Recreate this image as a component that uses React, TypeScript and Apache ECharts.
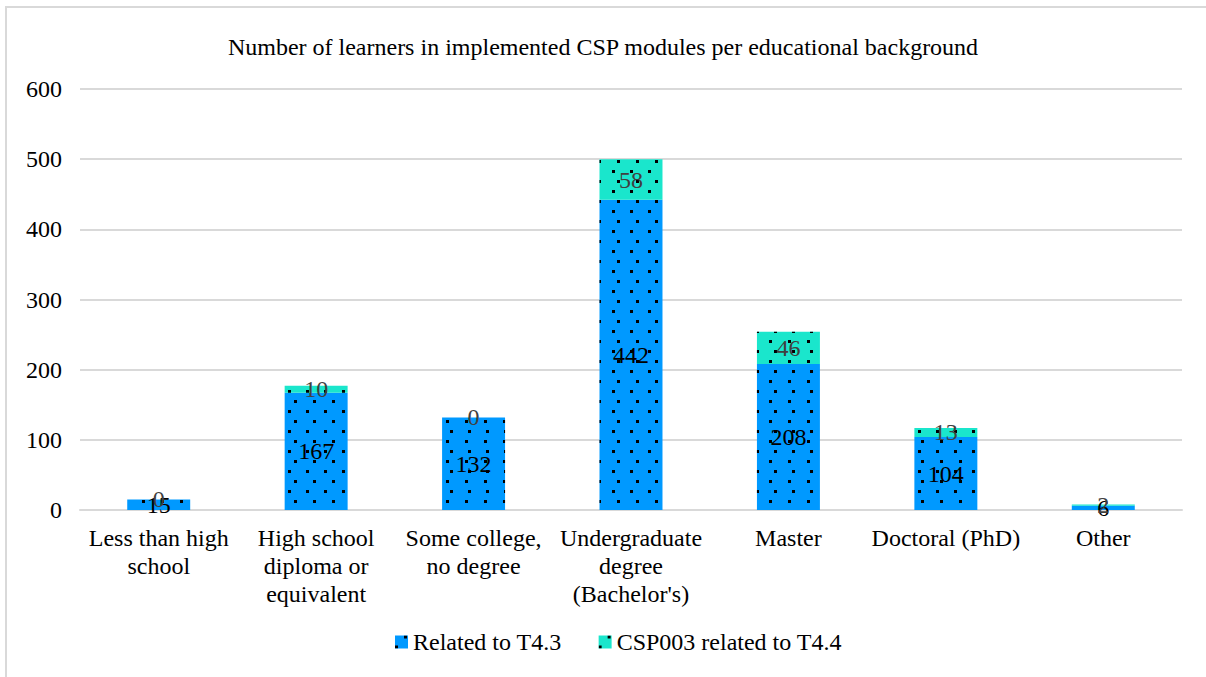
import React, { useEffect, useRef } from "react";
import * as echarts from "echarts";

const categories = [
  "Less than high\nschool",
  "High school\ndiploma or\nequivalent",
  "Some college,\nno degree",
  "Undergraduate\ndegree\n(Bachelor's)",
  "Master",
  "Doctoral (PhD)",
  "Other",
];
const relatedT43 = [15, 167, 132, 442, 208, 104, 6];
const csp003T44 = [0, 10, 0, 58, 46, 13, 2];
const seriesNames = ["Related to T4.3", "CSP003 related to T4.4"];
const titleText = "Number of learners in implemented CSP modules per educational background";

const FONT = "'Liberation Serif', 'Times New Roman', serif";

const dotDecal = {
  symbol: "rect",
  symbolSize: 1,
  color: "#000000",
  dashArrayX: [[2.2, 14.3], [0, 8.25, 2.2, 6.05]],
  dashArrayY: [2.2, 6.8],
  rotation: 0,
};

export default function App() {
  const ref = useRef<HTMLDivElement>(null);
  useEffect(() => {
    document.body.style.margin = "0";
    const chart = echarts.init(ref.current!, null, { renderer: "svg" });
    chart.setOption({
      animation: false,
      backgroundColor: "#ffffff",
      textStyle: { fontFamily: FONT },
      title: {
        text: titleText,
        left: "center",
        top: 30,
        textStyle: { fontFamily: FONT, fontSize: 24, fontWeight: "normal", color: "#000" },
      },
      legend: {
        bottom: 18,
        left: 390,
        itemWidth: 13,
        itemHeight: 13,
        itemGap: 37,
        icon: "rect",
        textStyle: { fontFamily: FONT, fontSize: 24, color: "#000" },
        data: seriesNames,
      },
      grid: { left: 80, right: 24, top: 89, bottom: 167, containLabel: false },
      xAxis: {
        type: "category",
        data: categories,
        axisLine: { lineStyle: { color: "#d9d9d9", width: 2 } },
        axisTick: { show: false },
        axisLabel: {
          fontFamily: FONT,
          fontSize: 24,
          color: "#000",
          lineHeight: 28,
          margin: 14,
          interval: 0,
        },
      },
      yAxis: {
        type: "value",
        min: 0,
        max: 600,
        interval: 100,
        axisLine: { show: false },
        axisTick: { show: false },
        splitLine: { lineStyle: { color: "#d9d9d9", width: 2 } },
        axisLabel: { fontFamily: FONT, fontSize: 24, color: "#000", margin: 18 },
      },
      series: [
        {
          name: seriesNames[0],
          type: "bar",
          stack: "total",
          data: relatedT43,
          barWidth: "40%",
          itemStyle: { color: "#0099FF", decal: dotDecal },
          label: {
            show: true,
            position: "inside",
            fontFamily: FONT,
            fontSize: 24,
            color: "#000",
          },
        },
        {
          name: seriesNames[1],
          type: "bar",
          stack: "total",
          data: csp003T44,
          barWidth: "40%",
          itemStyle: { color: "#1AE6CC", decal: dotDecal },
          label: {
            show: true,
            position: "inside",
            fontFamily: FONT,
            fontSize: 24,
            color: "#404040",
          },
        },
      ],
      graphic: [
        {
          type: "polyline",
          shape: { points: [[6, 677], [6, 7], [1206, 7]] },
          style: { stroke: "#d9d9d9", lineWidth: 2, fill: "none" },
          silent: true,
        },
      ],
    });
    return () => chart.dispose();
  }, []);
  return <div ref={ref} style={{ width: 1206, height: 677 }} />;
}
